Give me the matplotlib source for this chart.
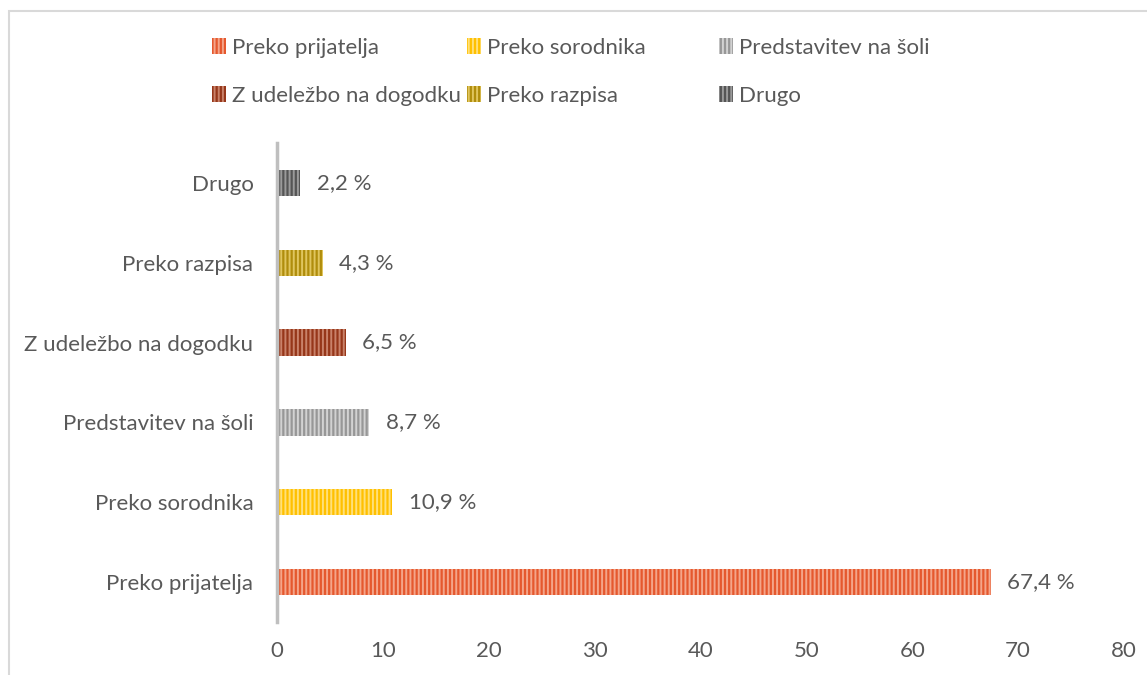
import matplotlib.pyplot as plt
from matplotlib.patches import Patch, Rectangle

plt.rcParams['font.family'] = ['Lato', 'DejaVu Sans']
plt.rcParams['hatch.linewidth'] = 1.4

categories = ['Preko prijatelja', 'Preko sorodnika', 'Predstavitev na šoli',
              'Z udeležbo na dogodku', 'Preko razpisa', 'Drugo']
values = [67.4, 10.9, 8.7, 6.5, 4.3, 2.2]
labels = ['67,4 %', '10,9 %', '8,7 %', '6,5 %', '4,3 %', '2,2 %']
colors = ['#E5582E', '#FFC000', '#979797', '#96371A', '#B08D0C', '#555555']
hatch_colors = ['#F4A58A', '#FFE07A', '#D2D2D2', '#C9826A', '#E0C55E', '#9A9A9A']
xticks = [0, 10, 20, 30, 40, 50, 60, 70, 80]

text_col = '#595959'
fs = 16

fig = plt.figure(figsize=(11.47, 6.75), dpi=100)
# outer frame of the chart area
fig.patches.append(Rectangle((9 / 1147, -0.1), 1.2, 1 - 11 / 675 + 0.1,
                             transform=fig.transFigure, fill=False,
                             edgecolor='#d9d9d9', linewidth=1.5))

ax = fig.add_axes([277 / 1147, 1 - 622 / 675, (1124 - 277) / 1147, (622 - 143) / 675])

handles = []
for i, (cat, v) in enumerate(zip(categories, values)):
    ax.barh(i, v, height=0.33, color=colors[i], edgecolor=hatch_colors[i],
            linewidth=0, hatch='||||')
    ax.annotate(labels[i], (v, i), xytext=(12, 0), textcoords='offset points',
                va='center', ha='left', fontsize=fs, color=text_col)
    handles.append(Patch(facecolor=colors[i], edgecolor=hatch_colors[i],
                         linewidth=0, hatch='||||', label=cat))

ax.set_xlim(0, 80)
ax.set_ylim(-0.5, 5.5)
ax.set_xticks(xticks)
ax.set_yticks(range(len(categories)))
ax.set_yticklabels(categories)
ax.tick_params(axis='both', length=0, labelsize=fs, colors=text_col)
ax.tick_params(axis='y', pad=17)
ax.tick_params(axis='x', pad=14)
for s in ['top', 'right', 'bottom']:
    ax.spines[s].set_visible(False)
ax.spines['left'].set_color('#bfbfbf')
ax.spines['left'].set_linewidth(2.5)

# legend: three columns placed at fixed x positions, two rows each
col_x = [212, 467, 719]
for c in range(3):
    idx = [c, c + 3]
    leg = fig.legend([handles[k] for k in idx], [categories[k] for k in idx],
                     ncol=1, loc='upper left',
                     bbox_to_anchor=(col_x[c] / 1147, 1 - 38 / 675),
                     frameon=False, fontsize=fs, handlelength=0.65, handleheight=0.75,
                     handletextpad=0.25, labelspacing=1.25, borderpad=0,
                     borderaxespad=0, labelcolor=text_col)

fig.savefig('out.png', dpi=100)
